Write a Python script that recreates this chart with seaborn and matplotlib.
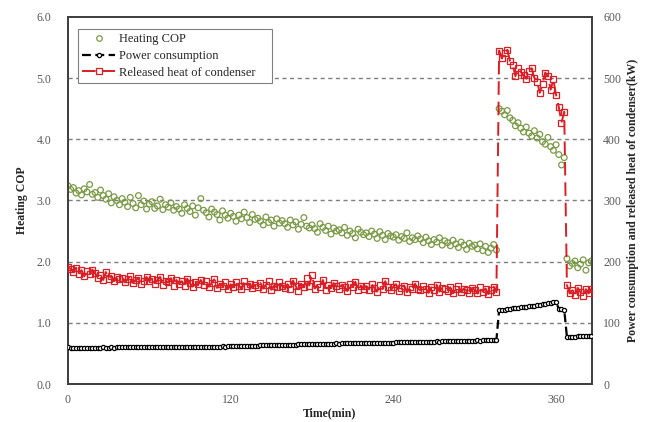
import numpy as np
import pandas as pd
import matplotlib
matplotlib.use("Agg")
import matplotlib.pyplot as plt
import seaborn as sns
from matplotlib.lines import Line2D

# time axis (min), sampled every 2 min
time_min = np.arange(0, 388, 2)

# Heating COP (left axis)
cop_low = [
    3.24, 3.18, 3.21, 3.12, 3.16, 3.09, 3.19, 3.14, 3.26, 3.10,
    3.13, 3.05, 3.17, 3.08, 3.02, 3.11, 2.96, 3.06, 3.00, 2.93,
    3.03, 2.97, 2.90, 3.05, 2.95, 2.88, 3.08, 2.93, 2.99, 2.86,
    2.94, 2.98, 2.87, 2.91, 3.02, 2.85, 2.93, 2.89, 2.96, 2.84,
    2.90, 2.86, 2.79, 2.93, 2.87, 2.82, 2.91, 2.76, 2.88, 3.03,
    2.84, 2.80, 2.73, 2.86, 2.81, 2.77, 2.68, 2.83, 2.76, 2.71,
    2.79, 2.74, 2.66, 2.76, 2.70, 2.81, 2.72, 2.64, 2.77, 2.69,
    2.71, 2.66, 2.60, 2.73, 2.64, 2.68, 2.58, 2.70, 2.63, 2.67,
    2.62, 2.56, 2.68, 2.60, 2.65, 2.53, 2.61, 2.72, 2.58, 2.55,
    2.60, 2.54, 2.48, 2.62, 2.56, 2.51, 2.58, 2.45, 2.55, 2.50,
    2.52, 2.47, 2.56, 2.43, 2.50, 2.46, 2.39, 2.53, 2.48, 2.44,
    2.47, 2.41, 2.50, 2.45, 2.38, 2.49, 2.43, 2.36, 2.46, 2.42,
    2.40, 2.44, 2.35, 2.41, 2.38, 2.47, 2.33, 2.39, 2.36, 2.42,
    2.37, 2.31, 2.40, 2.34, 2.28, 2.36, 2.32, 2.39, 2.27, 2.34,
    2.31, 2.26, 2.35, 2.29, 2.23, 2.32, 2.27, 2.20, 2.30, 2.25,
    2.27, 2.21, 2.29, 2.18, 2.25, 2.15, 2.22, 2.28, 2.19,
]
cop_high = [
    4.50, 4.46, 4.40, 4.47, 4.35, 4.31, 4.22, 4.27, 4.18, 4.12,
    4.20, 4.10, 4.05, 4.14, 4.02, 4.08, 3.96, 3.92, 4.03, 3.88,
    3.82, 3.91, 3.75, 3.58, 3.70,
]
cop_end = [2.05, 1.93, 1.97, 2.01, 1.90, 1.96, 2.03, 1.86, 1.98, 2.01]

# Power consumption (kW, right axis)
power_low = [
    59.8, 59.5, 59.4, 59.5, 59.6, 59.5, 59.4, 59.6, 59.5, 59.5,
    59.6, 59.5, 59.6, 59.7, 59.6, 59.6, 59.7, 59.6, 59.7, 59.8,
    59.7, 59.8, 59.8, 59.9, 59.8, 59.9, 60.0, 59.9, 60.0, 60.1,
    60.0, 60.1, 60.2, 60.1, 60.2, 60.3, 60.2, 60.3, 60.4, 60.3,
    60.4, 60.5, 60.4, 60.6, 60.5, 60.6, 60.7, 60.6, 60.8, 60.7,
    60.9, 61.0, 61.1, 61.0, 61.2, 61.3, 61.2, 61.4, 61.3, 61.5,
    61.6, 61.5, 61.7, 61.8, 61.7, 61.9, 62.0, 61.9, 62.1, 62.2,
    62.8, 63.0, 63.1, 63.0, 63.2, 63.3, 63.2, 63.4, 63.5, 63.4,
    63.6, 63.7, 63.8, 64.0, 64.1, 65.2, 65.4, 65.3, 65.5, 65.6,
    65.5, 65.7, 65.8, 65.7, 65.9, 66.0, 66.1, 66.0, 66.2, 66.3,
    66.2, 66.4, 66.5, 66.4, 66.6, 66.7, 66.8, 66.7, 66.9, 67.0,
    67.1, 67.0, 67.2, 67.3, 67.4, 67.3, 67.5, 67.6, 67.7, 67.6,
    67.8, 67.9, 68.1, 68.0, 68.2, 68.3, 68.4, 68.6, 68.5, 68.7,
    68.8, 69.0, 69.1, 69.0, 69.2, 69.4, 69.5, 69.4, 69.6, 69.8,
    69.9, 70.1, 70.2, 70.1, 70.3, 70.5, 70.6, 70.8, 70.7, 70.9,
    71.0, 71.2, 71.1, 71.3, 71.5, 71.4, 71.6, 71.8, 72.0,
]
power_high = [
    120.8, 121.3, 121.6, 122.0, 122.8, 123.5, 124.2, 124.8, 125.5, 126.0,
    126.6, 127.2, 127.8, 128.3, 129.0, 129.6, 130.2, 131.0, 131.8, 132.6,
    133.5, 134.5, 122.5, 122.0, 121.5,
]
power_end = [77.0, 77.2, 77.5, 77.6, 77.8, 78.0, 78.1, 78.3, 78.5, 78.6]

# Released heat of condenser (kW, right axis)
heat_low = [
    191, 188, 183, 190, 180, 186, 176, 184, 179, 187,
    181, 174, 178, 170, 183, 172, 177, 168, 175, 171,
    174, 166, 171, 177, 165, 170, 173, 163, 169, 175,
    168, 172, 164, 170, 175, 162, 169, 166, 173, 161,
    170, 164, 168, 160, 172, 165, 158, 167, 163, 170,
    162, 168, 159, 165, 171, 157, 164, 160, 167, 155,
    163, 158, 166, 161, 155, 168, 160, 164, 157, 162,
    159, 165, 156, 162, 168, 154, 161, 158, 166, 160,
    157, 163, 155, 169, 160, 152, 164, 158, 173, 161,
    178, 156, 163, 159, 170, 154, 162, 157, 165, 160,
    155, 162, 158, 152, 164, 159, 167, 153, 161, 156,
    160, 154, 163, 157, 151, 162, 155, 168, 158, 153,
    159, 163, 152, 157, 161, 150, 158, 155, 164, 156,
    153, 160, 156, 149, 158, 154, 162, 151, 157, 155,
    152, 158, 148, 155, 160, 150, 156, 153, 149, 157,
    154, 148, 158, 151, 156, 147, 153, 159, 150,
]
heat_high = [
    545, 532, 541, 546, 528, 522, 503, 516, 510, 505,
    499, 512, 516, 500, 494, 476, 490, 509, 503, 481,
    498, 472, 453, 427, 445,
]
heat_end = [162, 148, 153, 145, 157, 150, 144, 155, 148, 156]

df = pd.DataFrame({
    "time": time_min,
    "cop": cop_low + cop_high + cop_end,
    "power": power_low + power_high + power_end,
    "heat": heat_low + heat_high + heat_end,
})

green = "#7A9A45"
red = "#DC1E24"
serif = "Liberation Serif"

sns.set_style("white")
plt.rcParams["font.family"] = serif

fig = plt.figure(figsize=(6.47, 4.22), dpi=100)
ax = fig.add_axes([0.105, 0.090, 0.810, 0.870])
ax2 = ax.twinx()

sns.scatterplot(data=df, x="time", y="cop", ax=ax, marker="o", s=17,
                facecolor="none", edgecolor=green, linewidth=0.9, zorder=3)
sns.lineplot(data=df, x="time", y="power", ax=ax2, color="black",
             linestyle=(0, (4, 2)), linewidth=1.6, marker="o", markersize=3,
             markerfacecolor="white", markeredgecolor="black",
             markeredgewidth=0.9, zorder=3)
sns.lineplot(data=df, x="time", y="heat", ax=ax2, color=red,
             linestyle=(0, (7, 3.5)), linewidth=1.4, marker="s", markersize=4.2,
             markerfacecolor="none", markeredgecolor=red,
             markeredgewidth=0.9, zorder=4)

ax.set_xlim(0, 386.5)
ax.set_ylim(0, 6)
ax2.set_ylim(0, 600)
ax.set_xticks([0, 120, 240, 360])
ax.set_yticks(np.arange(0, 6.1, 1.0))
ax.set_yticklabels([f"{v:.1f}" for v in np.arange(0, 6.1, 1.0)])
ax2.set_yticks(np.arange(0, 601, 100))

for v in [1, 2, 3, 4, 5]:
    ax.axhline(v, color="#7F7F7F", linestyle=(0, (3, 2.5)), linewidth=1.0, zorder=1)

tick_color = "#595959"
ax.tick_params(axis="x", direction="in", length=4, width=1, colors="#404040",
               labelcolor=tick_color, labelsize=8.5, pad=7)
ax.tick_params(axis="y", direction="in", length=0, labelcolor=tick_color,
               labelsize=8.5, pad=12)
ax2.tick_params(axis="y", direction="in", length=0, labelcolor=tick_color,
                labelsize=8.5, pad=8)

for a in (ax, ax2):
    for sp in a.spines.values():
        sp.set_color("#404040")
        sp.set_linewidth(1.3)

ax.set_xlabel("Time(min)", fontsize=8.5, fontweight="bold", labelpad=1)
ax.set_ylabel("Heating COP", fontsize=8.5, fontweight="bold", labelpad=6)
ax2.set_ylabel("Power consumption and released heat of condenser(kW)",
               fontsize=8.5, fontweight="bold", labelpad=4)

handles = [
    Line2D([], [], linestyle="none", marker="o", markersize=4,
           markerfacecolor="none", markeredgecolor=green, markeredgewidth=0.9),
    Line2D([], [], color="black", linestyle=(0, (4, 2)), linewidth=1.6,
           marker="o", markersize=3, markerfacecolor="white",
           markeredgecolor="black", markeredgewidth=0.9),
    Line2D([], [], color=red, linestyle=(0, (7, 3.5)), linewidth=1.4,
           marker="s", markersize=4.2, markerfacecolor="none",
           markeredgecolor=red, markeredgewidth=0.9),
]
labels = ["Heating COP", "Power consumption", "Released heat of condenser"]
leg = ax2.legend(handles, labels, loc="upper left",
                 bbox_to_anchor=(0.019, 0.5, 0.370, 0.467), mode="expand",
                 borderaxespad=0, fontsize=9, frameon=True, fancybox=False,
                 edgecolor="#808080", framealpha=1, handlelength=2.6,
                 handletextpad=0.3, borderpad=0.35, labelspacing=0.38)
leg.get_frame().set_linewidth(0.8)

fig.savefig("out.png", dpi=100)
